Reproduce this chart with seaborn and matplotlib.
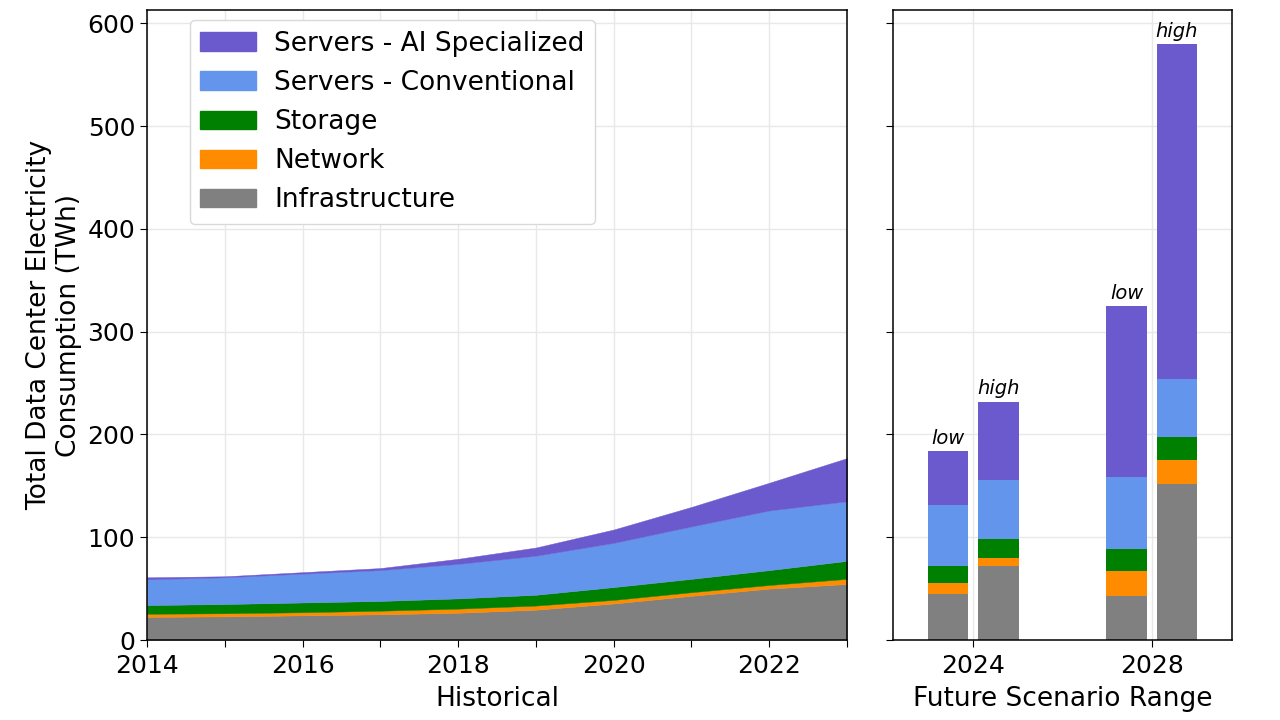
import numpy as np
import pandas as pd
import seaborn as sns
import matplotlib
matplotlib.use('Agg')
import matplotlib.pyplot as plt
from matplotlib.patches import Patch

# 历史数据 (TWh)
years = [2014, 2015, 2016, 2017, 2018, 2019, 2020, 2021, 2022, 2023]
infrastructure = [22.5, 23.0, 24.0, 25.0, 26.5, 29.5, 35.5, 43.0, 50.0, 54.5]
network = [3.0, 3.0, 3.0, 3.5, 4.0, 4.0, 3.5, 3.5, 3.5, 5.0]
storage = [8.5, 9.0, 9.5, 9.5, 10.0, 10.5, 12.5, 13.0, 14.5, 17.5]
conventional = [25.0, 26.0, 28.0, 30.0, 33.5, 38.0, 43.0, 51.0, 58.0, 58.0]
ai_specialized = [2.0, 1.0, 1.5, 2.0, 5.0, 8.0, 13.0, 19.0, 27.0, 42.0]

# 未来情景 (low / high)
scenario_years = [2024, 2024, 2028, 2028]
scenario_names = ['low', 'high', 'low', 'high']
sc_infrastructure = [45, 72, 43, 152]
sc_network = [10, 8, 24, 23]
sc_storage = [17, 18, 22, 23]
sc_conventional = [59, 58, 70, 56]
sc_ai = [53, 76, 166, 326]

labels = ['Infrastructure', 'Network', 'Storage', 'Servers - Conventional', 'Servers - AI Specialized']
colors = ['#808080', '#FF8C00', '#008000', '#6495ED', '#6A5ACD']

sns.set_style('ticks')
plt.rcParams['font.family'] = ['DejaVu Sans']
plt.rcParams['text.color'] = 'black'
plt.rcParams['axes.labelcolor'] = 'black'
plt.rcParams['xtick.color'] = 'black'
plt.rcParams['ytick.color'] = 'black'

hist = pd.DataFrame({'year': years, 'Infrastructure': infrastructure, 'Network': network,
                     'Storage': storage, 'Servers - Conventional': conventional,
                     'Servers - AI Specialized': ai_specialized})
future = pd.DataFrame({'year': scenario_years, 'case': scenario_names,
                       'Infrastructure': sc_infrastructure, 'Network': sc_network,
                       'Storage': sc_storage, 'Servers - Conventional': sc_conventional,
                       'Servers - AI Specialized': sc_ai})

fig = plt.figure(figsize=(12.8, 7.2), dpi=100)
ax1 = fig.add_axes([0.1148, 0.1111, 0.5469, 0.875])
ax2 = fig.add_axes([0.6977, 0.1111, 0.2648, 0.875], sharey=ax1)

# 1. 历史堆叠面积图
ax1.stackplot(hist['year'], [hist[c] for c in labels], colors=colors, linewidth=0.3,
              edgecolor='face')
ax1.set_xlim(2014, 2023)
ax1.set_ylim(0, 613)
ax1.set_xticks(years)
ax1.set_xticklabels([str(y) if y % 2 == 0 else '' for y in years])
ax1.set_yticks([0, 100, 200, 300, 400, 500, 600])
ax1.set_xlabel('Historical', fontsize=19, labelpad=6)
ax1.set_ylabel('Total Data Center Electricity\nConsumption (TWh)', fontsize=19)
ax1.grid(True, color='0.91', linewidth=1)
ax1.set_axisbelow(True)

handles = [Patch(color=c, label=l) for c, l in zip(colors, labels)][::-1]
ax1.legend(handles=handles, loc='upper left', fontsize=19, handlelength=2.1,
           handleheight=0.7, handletextpad=0.7, labelspacing=0.5, framealpha=1,
           edgecolor='0.85', borderpad=0.4, borderaxespad=0, bbox_to_anchor=(0.061, 0.984))

# 2. 未来情景堆叠柱状图
width = 0.9
offset = 0.565
xpos = [y - offset if c == 'low' else y + offset for y, c in zip(future['year'], future['case'])]
bottom = np.zeros(len(future))
for c, col in zip(labels, colors):
    ax2.bar(xpos, future[c], bottom=bottom, width=width, color=col, linewidth=0)
    bottom += future[c].values
for x, tot, name in zip(xpos, bottom, future['case']):
    ax2.text(x, tot + 3, name, ha='center', va='bottom', style='italic', fontsize=14)

ax2.set_xlim(2022.2, 2029.8)
ax2.set_xticks([2024, 2028])
ax2.set_xlabel('Future Scenario Range', fontsize=19, labelpad=6)
ax2.tick_params(labelleft=False)
ax2.grid(True, color='0.91', linewidth=1)
ax2.set_axisbelow(True)

for ax in (ax1, ax2):
    ax.tick_params(labelsize=18, length=5)
    ax.tick_params(axis='x', pad=5)
    for s in ax.spines.values():
        s.set_visible(True)
        s.set_color('black')
        s.set_linewidth(1.1)

plt.savefig('out.png', dpi=100)
